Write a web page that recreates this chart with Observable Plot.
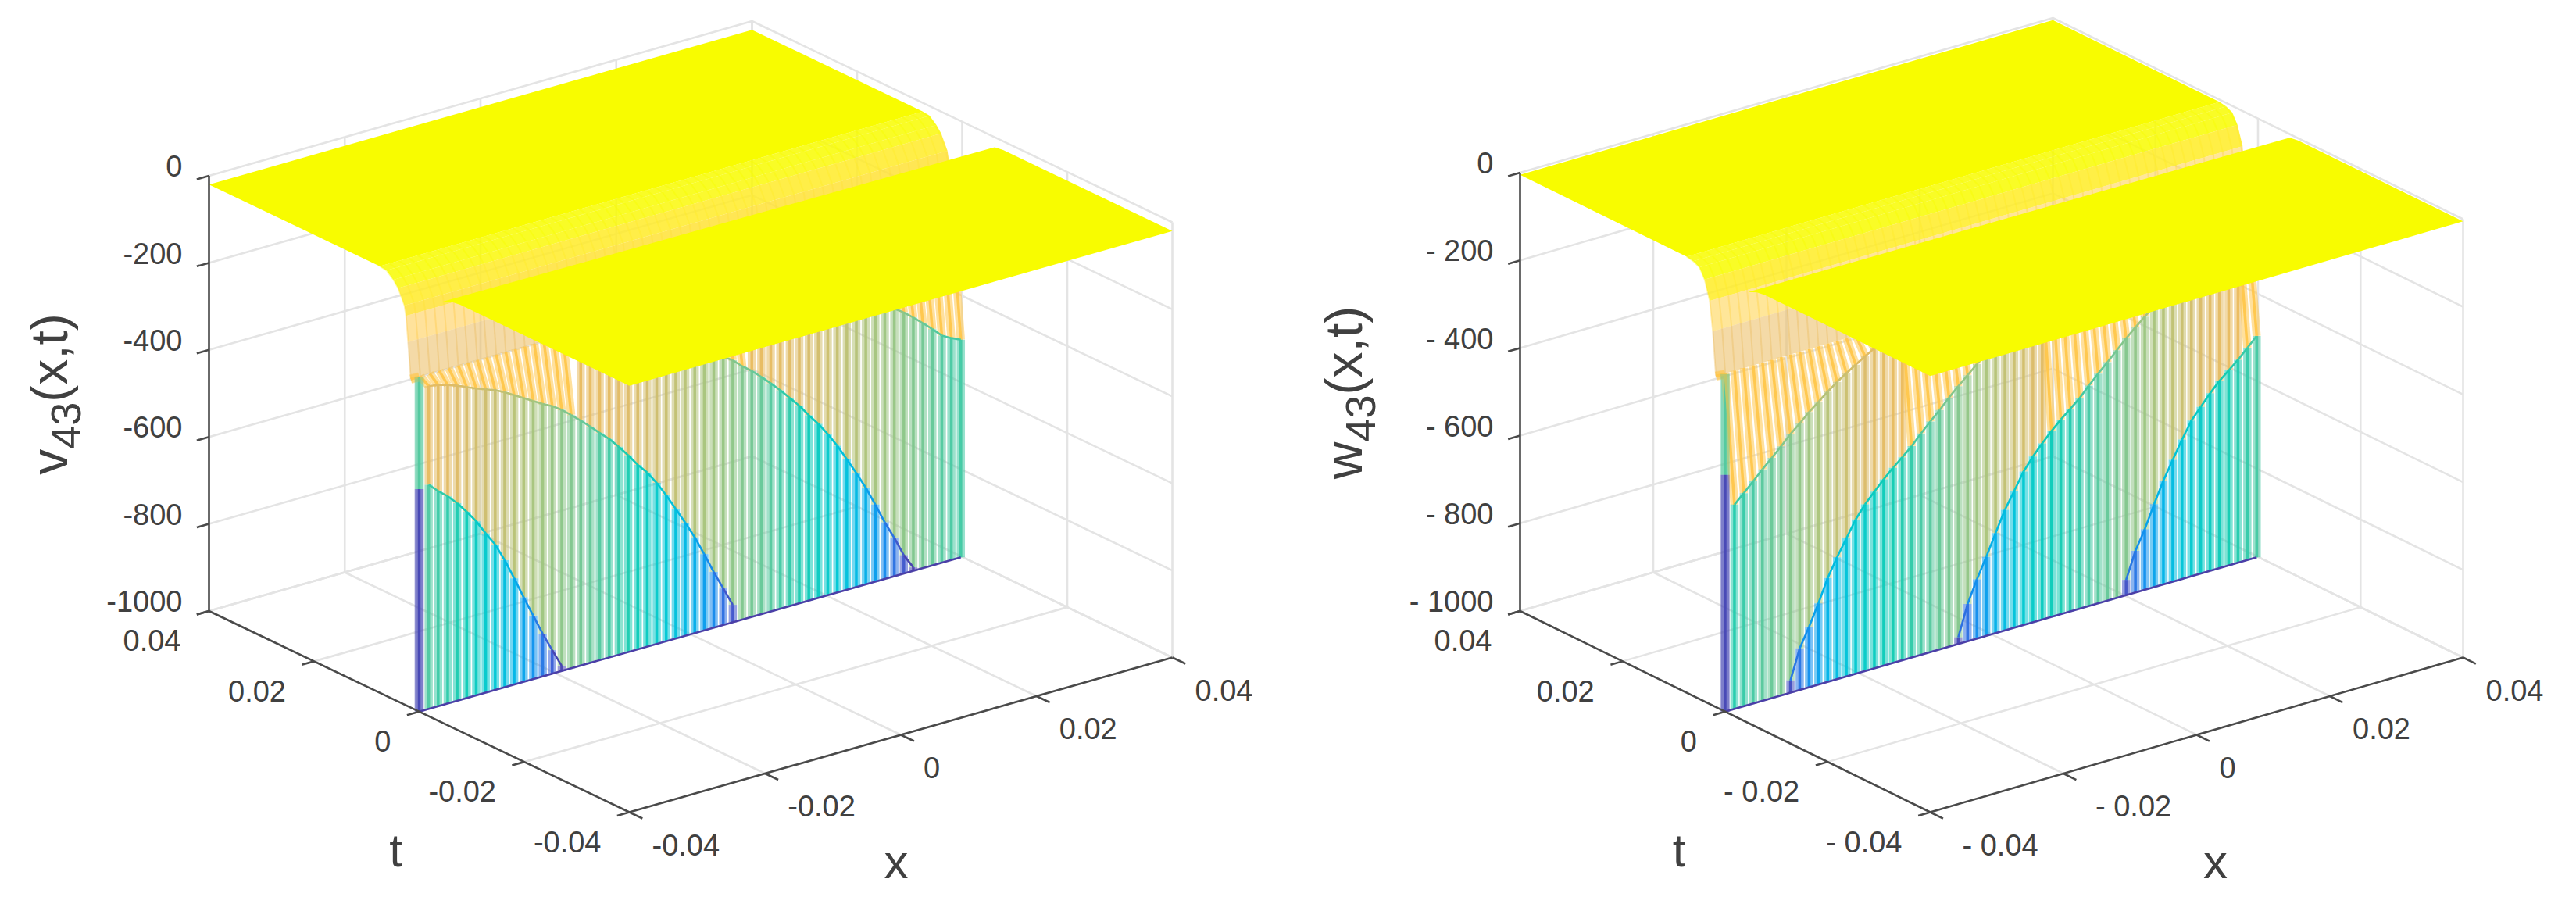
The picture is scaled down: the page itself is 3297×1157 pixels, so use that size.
<!DOCTYPE html>
<html><head><meta charset="utf-8">
<script src="https://cdn.jsdelivr.net/npm/d3@7"></script>
<script src="https://cdn.jsdelivr.net/npm/@observablehq/plot@0.6"></script>
<style>
html,body{margin:0;padding:0;background:#fff}
#row{display:flex;width:3297px;height:1157px}
svg{display:block;background:#fff}
</style></head><body><div id="row"></div>
<script>
// ---- shared axes
const xTicks=[-0.04,-0.02,0,0.02,0.04];
const tTicks=[-0.04,-0.02,0,0.02,0.04];
const zTicks=[0,-200,-400,-600,-800,-1000];
const stripeCount=58;
const stripeStep=0.0014;
// ---- left panel (v43): tick labels, edge profile and crest heights read per mesh column
const vName="v43(x,t)";
const vZLabels=["0","-200","-400","-600","-800","-1000"];
const vXYLabels=["-0.04","-0.02","0","0.02","0.04"];
const vSlopeT=[0.0075,0.0062,0.0049,0.0040,0.0028,0.0025,0.0021,0.0016];
const vSlopeZ=[-20,-22,-36,-50,-83,-105,-163,-245];
const vEdgeBreaks=[-231,-489];
const vEdgeShades=[-480,-985];
const vCrest1=[null,-485,-506,-524,-546,-572,-600,-634,-666,-708,-756,-806,-854,-902,-946,-988];
const vCrest2=[null,-258,-262,-268,-276,-285,-295,-303,-311,-322,-335,-348,-361,-374,-385,-400,-418,-437,-457,-478,-498,-522,-548,-576,-600,-630,-665,-702,-740,-780,-825,-872,-916,-960];
const vCrest3=[null,null,null,null,null,null,null,null,null,null,null,null,null,null,null,null,-245,-252,-255,-258,-262,-268,-276,-285,-293,-303,-311,-322,-335,-347,-360,-372,-384,-398,-418,-435,-455,-476,-498,-522,-546,-574,-600,-630,-663,-700,-738,-778,-823,-870,-912,-958,-992];
const vCrest4=[null,null,null,null,null,null,null,null,null,null,null,null,null,null,null,null,null,null,null,null,null,null,null,null,null,null,null,null,null,null,null,null,null,null,null,-250,-254,-258,-264,-270,-278,-287,-296,-305,-315,-327,-340,-353,-365,-375,-385,-400,-418,-437,-457,-478,-490,-500];
// ---- right panel (w43)
const wName="w43(x,t)";
const wZLabels=["0","- 200","- 400","- 600","- 800","- 1000"];
const wXYLabels=["- 0.04","- 0.02","0","0.02","0.04"];
const wSlopeT=[0.0075,0.0062,0.0050,0.0040,0.0030,0.0024,0.0018];
const wSlopeZ=[-5,-8,-15,-37,-80,-146,-245];
const wEdgeBreaks=[-230,-460];
const wEdgeShades=[-480,-985];
const wCrest1=[null,-534,-514,-493,-472,-452,-432,-410,-392,-372,-355,-338,-322,-308,-295,-282,-270,-262,-254,-246,-238,-230,-224];
const wCrest2=[null,null,null,null,null,null,null,-972,-905,-862,-815,-763,-722,-685,-648,-620,-597,-575,-555,-537,-518,-495,-474,-454,-432,-412,-393,-374,-356,-340,-322,-308,-295,-282,-270];
const wCrest3=[null,null,null,null,null,null,null,null,null,null,null,null,null,null,null,null,null,null,null,null,null,null,null,null,null,-985,-915,-865,-820,-772,-725,-688,-650,-622,-598,-576,-556,-538,-520,-497,-476,-456,-435,-414,-395,-377,-358,-341,-325,-309,-296,-283,-271,-262,-254,-246,-238,-230];
const wCrest4=[null,null,null,null,null,null,null,null,null,null,null,null,null,null,null,null,null,null,null,null,null,null,null,null,null,null,null,null,null,null,null,null,null,null,null,null,null,null,null,null,null,null,null,-965,-905,-862,-811,-763,-722,-682,-645,-620,-595,-573,-555,-537,-516,-495];

const colorDomain=[-1000,-940,-860,-760,-660,-560,-460,-360,-280,-200,-120,-70,-40,0];
const colorRange=["#4B3FA8","#3A62DC","#1090EE","#00B4E8","#00C8D4","#10CCB4","#62C89A","#A8C47C","#DCBC68","#FFBC50","#FFDC40","#FFF020","#F8FC00","#F8FC00"];

function panel(o){
  const {C,ex,et,ez,w}=o;
  // oblique view of the (x,t,z) box
  const u=(x,t,z)=>C[0]+(x+0.04)/0.08*ex[0]+(t+0.04)/0.08*et[0];
  const v=(x,t,z)=>C[1]+(x+0.04)/0.08*ex[1]+(t+0.04)/0.08*et[1]-(z+1000)/1000*ez;
  const seg=(a,b,shade)=>({x1:u(...a),y1:v(...a),x2:u(...b),y2:v(...b),shade});

  // grid
  const grid=[];
  for(const z of zTicks){
    grid.push(seg([-0.04,0.04,z],[0.04,0.04,z]));
    grid.push(seg([0.04,0.04,z],[0.04,-0.04,z]));
  }
  for(const x of xTicks){
    grid.push(seg([x,0.04,-1000],[x,0.04,0]));
    grid.push(seg([x,-0.04,-1000],[x,0.04,-1000]));
  }
  for(const t of tTicks){
    grid.push(seg([0.04,t,-1000],[0.04,t,0]));
    grid.push(seg([-0.04,t,-1000],[0.04,t,-1000]));
  }
  // axes
  const axes=[seg([-0.04,0.04,0],[-0.04,0.04,-1000]),seg([-0.04,-0.04,-1000],[-0.04,0.04,-1000]),seg([-0.04,-0.04,-1000],[0.04,-0.04,-1000])];
  for(const z of zTicks) axes.push(seg([-0.04,0.04,z],[-0.0418,0.04,z]));
  for(const t of tTicks) axes.push(seg([-0.04,t,-1000],[-0.0418,t,-1000]));
  for(const x of xTicks) axes.push(seg([x,-0.04,-1000],[x,-0.0425,-1000]));

  // far plateau + near plateau as closed outlines
  const poly=(id,shade,pts)=>pts.map(p=>({id,shade,u:u(...p),v:v(...p)}));
  const zp=o.plateauZ;
  const far=poly(0,0,[[-0.04,0.04,zp],[0.04,0.04,zp],[0.04,o.slopeT[0],zp],[-0.04,o.slopeT[0],zp]]);
  const near=poly(0,0,[[-0.04,-0.04,zp],[0.04,-0.04,zp],[0.04,-0.0078,zp],[0.04,-0.0062,zp-3],[0.04,-0.0052,zp-12],
    [-0.04,-0.0045,zp-12],[-0.04,-0.0062,zp-3],[-0.04,-0.0078,zp]]);
  // slope rows: the gentle part of the edge reads as a solid band, the steep part as a wash
  const rows=[],rowsSteep=[];
  o.slopeT.forEach((t,j)=>{
    if(j===o.slopeT.length-1) return;
    const t2=o.slopeT[j+1],z1=o.slopeZ[j],z2=o.slopeZ[j+1];
    (z2>-110?rows:rowsSteep).push(...poly(j,z2,[[-0.04,t,z1],[0.04,t,z1],[0.04,t2,z2],[-0.04,t2,z2]]));
  });

  // mesh columns
  const pale=[],dark=[],slopeLines=[],col0=[];
  const xs=d3.range(stripeCount).map(i=>-0.04+i*stripeStep);
  const topShade=-175;
  const last=o.slopeZ[o.slopeZ.length-1],lt=o.slopeT[o.slopeT.length-1];
  xs.forEach((x,i)=>{
    for(let j=0;j<o.slopeT.length-1;j++){
      slopeLines.push(seg([x,o.slopeT[j],o.slopeZ[j]],[x,o.slopeT[j+1],o.slopeZ[j+1]],o.slopeZ[j+1]));
    }
    let breaks,shades;
    if(i===0){breaks=o.edgeBreaks;shades=o.edgeShades;}
    else{
      breaks=o.crests.map(c=>c[i]).filter(d=>d!=null&&d<last).sort((a,b)=>b-a);
      shades=breaks;
    }
    let zPrev=last,tPrev=lt,sPrev=topShade;
    const put=s=>{ if(i===0) col0.push(s); pale.push(s);dark.push(s); };
    breaks.forEach((b,k)=>{
      put(seg([x,tPrev,zPrev],[x,0,b],sPrev));
      zPrev=b;tPrev=0;sPrev=shades[k];
    });
    put(seg([x,tPrev,zPrev],[x,0,-1000],sPrev));
  });
  // crest edges
  const edges=[];
  for(const c of o.crests){
    for(let i=1;i<c.length-1;i++){
      if(c[i]!=null&&c[i+1]!=null) edges.push(seg([xs[i],0,c[i]],[xs[i+1],0,c[i+1]],c[i+1]));
    }
  }
  edges.push(seg([-0.04,0,-1000],[xs[stripeCount-1],0,-1000],-1000));

  const textStyle={fontFamily:"Liberation Sans, Arial, sans-serif",fill:"#404040",stroke:"none"};
  const zLab=zTicks.map((z,i)=>({u:u(-0.04,0.04,z),v:v(-0.04,0.04,z),s:o.zLabels[i]}));
  const tLab=tTicks.map((t,i)=>({u:u(-0.04,t,-1000),v:v(-0.04,t,-1000),s:o.xyLabels[i]}));
  const xLab=xTicks.map((x,i)=>({u:u(x,-0.04,-1000)+(x<0?o.negShift:0),v:v(x,-0.04,-1000),s:o.xyLabels[i]}));
  const xKey={x1:"x1",y1:"y1",x2:"x2",y2:"y2"};

  const p=Plot.plot({
    width:w,height:1157,margin:0,
    x:{domain:[0,w],range:[0,w],axis:null},
    y:{domain:[0,1157],range:[0,1157],axis:null},
    color:{type:"linear",domain:colorDomain,range:colorRange,clamp:true,legend:false},
    marks:[
      Plot.link(grid,{...xKey,stroke:"#e4e4e4",strokeWidth:2.6}),
      Plot.line(far,{x:"u",y:"v",z:"id",fill:"shade",stroke:"none"}),
      Plot.line(rows,{x:"u",y:"v",z:"id",fill:"shade",stroke:"none",fillOpacity:0.85}),
      Plot.line(rowsSteep,{x:"u",y:"v",z:"id",fill:"shade",stroke:"none",fillOpacity:0.55}),
      Plot.link(slopeLines,{...xKey,stroke:"shade",strokeWidth:2,strokeOpacity:0.4}),
      Plot.link(pale,{...xKey,stroke:"shade",strokeWidth:10.5,strokeOpacity:0.55}),
      Plot.link(dark,{...xKey,stroke:"shade",strokeWidth:3.5,strokeOpacity:0.95}),
      Plot.link(col0,{...xKey,stroke:"shade",strokeWidth:12,strokeOpacity:0.35}),
      Plot.link(edges,{...xKey,stroke:"shade",strokeWidth:2.6}),
      Plot.line(near,{x:"u",y:"v",z:"id",fill:"shade",stroke:"none"}),
      Plot.link(axes,{...xKey,stroke:"#4a4a4a",strokeWidth:2.6}),
      Plot.text(zLab,{x:"u",y:"v",text:"s",textAnchor:"end",lineAnchor:"middle",dx:-34,dy:-11,fontSize:38,...textStyle}),
      Plot.text(tLab,{x:"u",y:"v",text:"s",textAnchor:"end",lineAnchor:"middle",dx:-36,dy:39,fontSize:38,...textStyle}),
      Plot.text(xLab,{x:"u",y:"v",text:"s",textAnchor:"start",lineAnchor:"middle",dx:29,dy:43,fontSize:38,...textStyle}),
      Plot.text(["t"],{x:u(-0.04,0,-1000),y:v(-0.04,0,-1000),text:d=>d,dx:o.tDx,dy:179,fontSize:60,lineAnchor:"middle",...textStyle}),
      Plot.text(["x"],{x:u(0,-0.04,-1000),y:v(0,-0.04,-1000),text:d=>d,dx:o.xDx,dy:164,fontSize:62,lineAnchor:"middle",...textStyle}),
      Plot.text([o.name],{x:u(-0.04,0.04,-500),y:v(-0.04,0.04,-500),text:d=>d,dx:o.nameDx,dy:1,fontSize:66,rotate:-90,lineAnchor:"middle",...textStyle,className:"zname"})
    ]
  });
  // subscript for the vertical axis name
  d3.select(p).selectAll(".zname text").each(function(){
    const s=o.name,el=d3.select(this);
    el.text(null);
    el.append("tspan").text(s[0]);
    el.append("tspan").attr("dy",17).attr("font-size",54).text(s.slice(1,3));
    el.append("tspan").attr("dy",-17).text(s.slice(3));
  });
  return p;
}

const row=document.getElementById("row");
row.appendChild(panel({w:1648,C:[805,1039],ex:[695,-198],et:[-538,-257.5],ez:557,plateauZ:-20,negShift:0,
  name:vName,zLabels:vZLabels,xyLabels:vXYLabels,slopeT:vSlopeT,slopeZ:vSlopeZ,edgeBreaks:vEdgeBreaks,edgeShades:vEdgeShades,
  crests:[vCrest1,vCrest2,vCrest3,vCrest4],tDx:-30,xDx:-6,nameDx:-203}));
row.appendChild(panel({w:1649,C:[822,1039],ex:[682,-198],et:[-525,-257.5],ez:561,plateauZ:-5,negShift:12,
  name:wName,zLabels:wZLabels,xyLabels:wXYLabels,slopeT:wSlopeT,slopeZ:wSlopeZ,edgeBreaks:wEdgeBreaks,edgeShades:wEdgeShades,
  crests:[wCrest1,wCrest2,wCrest3,wCrest4],tDx:-59,xDx:24,nameDx:-224}));
</script></body></html>
